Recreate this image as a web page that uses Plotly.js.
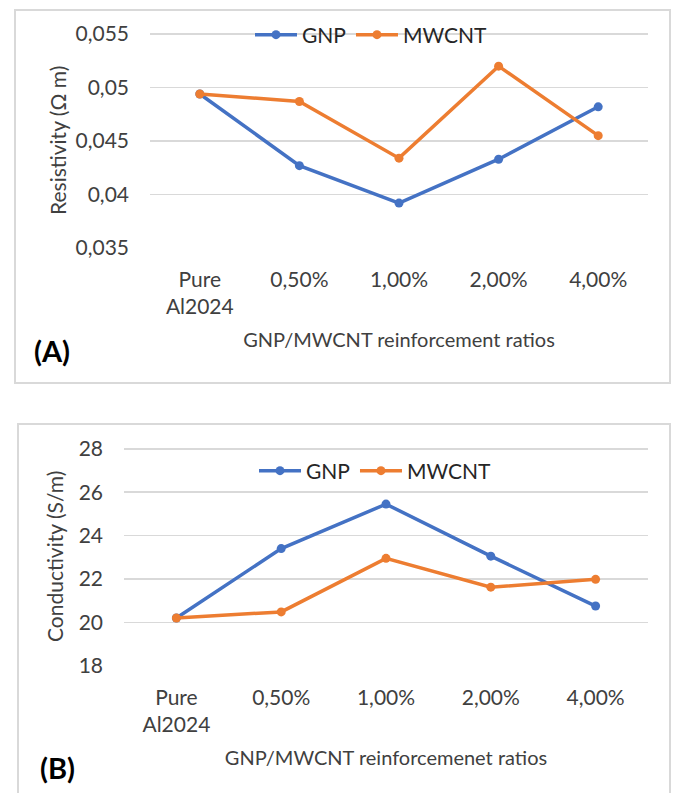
<!DOCTYPE html>
<html>
<head>
<meta charset="utf-8">
<script src="https://cdn.plot.ly/plotly-3.0.1.min.js"></script>
<style>html,body{margin:0;padding:0;background:#fff;}#chart{width:675px;height:793px;}</style>
</head>
<body>
<div id="chart"></div>
<script>
const categories = ["Pure<br>Al2024", "0,50%", "1,00%", "2,00%", "4,00%"];
const resistivityGNP   = [0.0494, 0.0427, 0.0392, 0.0433, 0.0482];
const resistivityMWCNT = [0.0494, 0.0487, 0.0434, 0.0520, 0.0455];
const conductivityGNP   = [20.2, 23.4, 25.45, 23.05, 20.75];
const conductivityMWCNT = [20.2, 20.48, 22.95, 21.62, 21.98];
const resTickVals = [0.035, 0.04, 0.045, 0.05, 0.055];
const resTickText = ["0,035", "0,04", "0,045", "0,05", "0,055"];
const condTickVals = [18, 20, 22, 24, 26, 28];
const condTickText = ["18", "20", "22", "24", "26", "28"];

const BLUE = "#4472C4", ORANGE = "#ED7D31";
const FONT = "Lato, 'Open Sans', sans-serif";
const W = 675, H = 793;
const px = v => v / W, py = v => 1 - v / H;

function series(y, name, color, xa, ya, legend) {
  return {
    x: categories, y: y, name: name, type: "scatter", mode: "lines+markers",
    xaxis: xa, yaxis: ya, legend: legend, showlegend: true,
    line: {color: color, width: 3.5}, marker: {color: color, size: 9}
  };
}

const data = [
  series(resistivityGNP, "GNP", BLUE, "x", "y", "legend"),
  series(resistivityMWCNT, "MWCNT", ORANGE, "x", "y", "legend"),
  series(conductivityGNP, "GNP", BLUE, "x2", "y2", "legend2"),
  series(conductivityMWCNT, "MWCNT", ORANGE, "x2", "y2", "legend2")
];

const tickFont = {family: FONT, size: 21, color: "#404040"};
const titleFont = {family: FONT, size: 20, color: "#404040"};
const yTitleFont = {family: FONT, size: 21, color: "#404040"};

function xAxis(domain, anchor, title) {
  return {
    domain: domain, anchor: anchor, type: "category", range: [-0.5, 4.5],
    showgrid: false, showline: false, zeroline: false, ticks: "",
    tickfont: tickFont, ticklabelstandoff: 17,
    title: {text: title, font: titleFont, standoff: 15},
    fixedrange: true
  };
}
function yAxis(domain, anchor, range, vals, text) {
  return {
    domain: domain, anchor: anchor, range: range, tickmode: "array", tickvals: vals, ticktext: text,
    showgrid: true, gridcolor: "#d9d9d9", gridwidth: 1.5, zeroline: false, showline: false,
    ticks: "", tickfont: tickFont, ticklabelstandoff: 20,
    fixedrange: true
  };
}

const legendFont = {family: FONT, size: 21, color: "#262626"};

const layout = {
  width: W, height: H, margin: {l: 0, r: 0, t: 0, b: 0},
  paper_bgcolor: "#fff", plot_bgcolor: "rgba(0,0,0,0)",
  separators: ",.",
  font: {family: FONT, color: "#404040"},
  xaxis: xAxis([px(150), px(648)], "y", "GNP/MWCNT reinforcement ratios"),
  yaxis: yAxis([py(248), py(33)], "x", [0.035, 0.0551], resTickVals, resTickText),
  xaxis2: xAxis([px(124), px(648)], "y2", "GNP/MWCNT reinforcemenet ratios"),
  yaxis2: yAxis([py(665.7), py(447.7)], "x2", [18, 28.05], condTickVals, condTickText),
  legend: {orientation: "h", x: px(250), y: py(35), xanchor: "left", yanchor: "middle",
           bgcolor: "rgba(0,0,0,0)", font: legendFont, itemwidth: 42},
  legend2: {orientation: "h", x: px(254), y: py(471), xanchor: "left", yanchor: "middle",
           bgcolor: "rgba(0,0,0,0)", font: legendFont, itemwidth: 42},
  shapes: [
    {type: "rect", xref: "paper", yref: "paper", x0: px(15), x1: px(670), y0: py(383), y1: py(10),
     line: {color: "#d9d9d9", width: 2}, layer: "below"},
    {type: "rect", xref: "paper", yref: "paper", x0: px(18), x1: px(670), y0: py(800), y1: py(424),
     line: {color: "#d9d9d9", width: 2}, layer: "below"}
  ],
  annotations: [
    {text: "Resistivity (Ω m)", xref: "paper", yref: "paper", x: px(57), y: py(141), textangle: -90,
     showarrow: false, xanchor: "center", yanchor: "middle", font: yTitleFont},
    {text: "Conductivity (S/m)", xref: "paper", yref: "paper", x: px(54), y: py(557), textangle: -90,
     showarrow: false, xanchor: "center", yanchor: "middle", font: yTitleFont},
    {text: "<b>(A)</b>", xref: "paper", yref: "paper", x: px(52), y: py(350), showarrow: false,
     xanchor: "center", yanchor: "middle", font: {family: FONT, size: 29, color: "#000"}},
    {text: "<b>(B)</b>", xref: "paper", yref: "paper", x: px(57), y: py(767), showarrow: false,
     xanchor: "center", yanchor: "middle", font: {family: FONT, size: 29, color: "#000"}}
  ]
};

Plotly.newPlot("chart", data, layout, {staticPlot: true, displayModeBar: false});
</script>
</body>
</html>
